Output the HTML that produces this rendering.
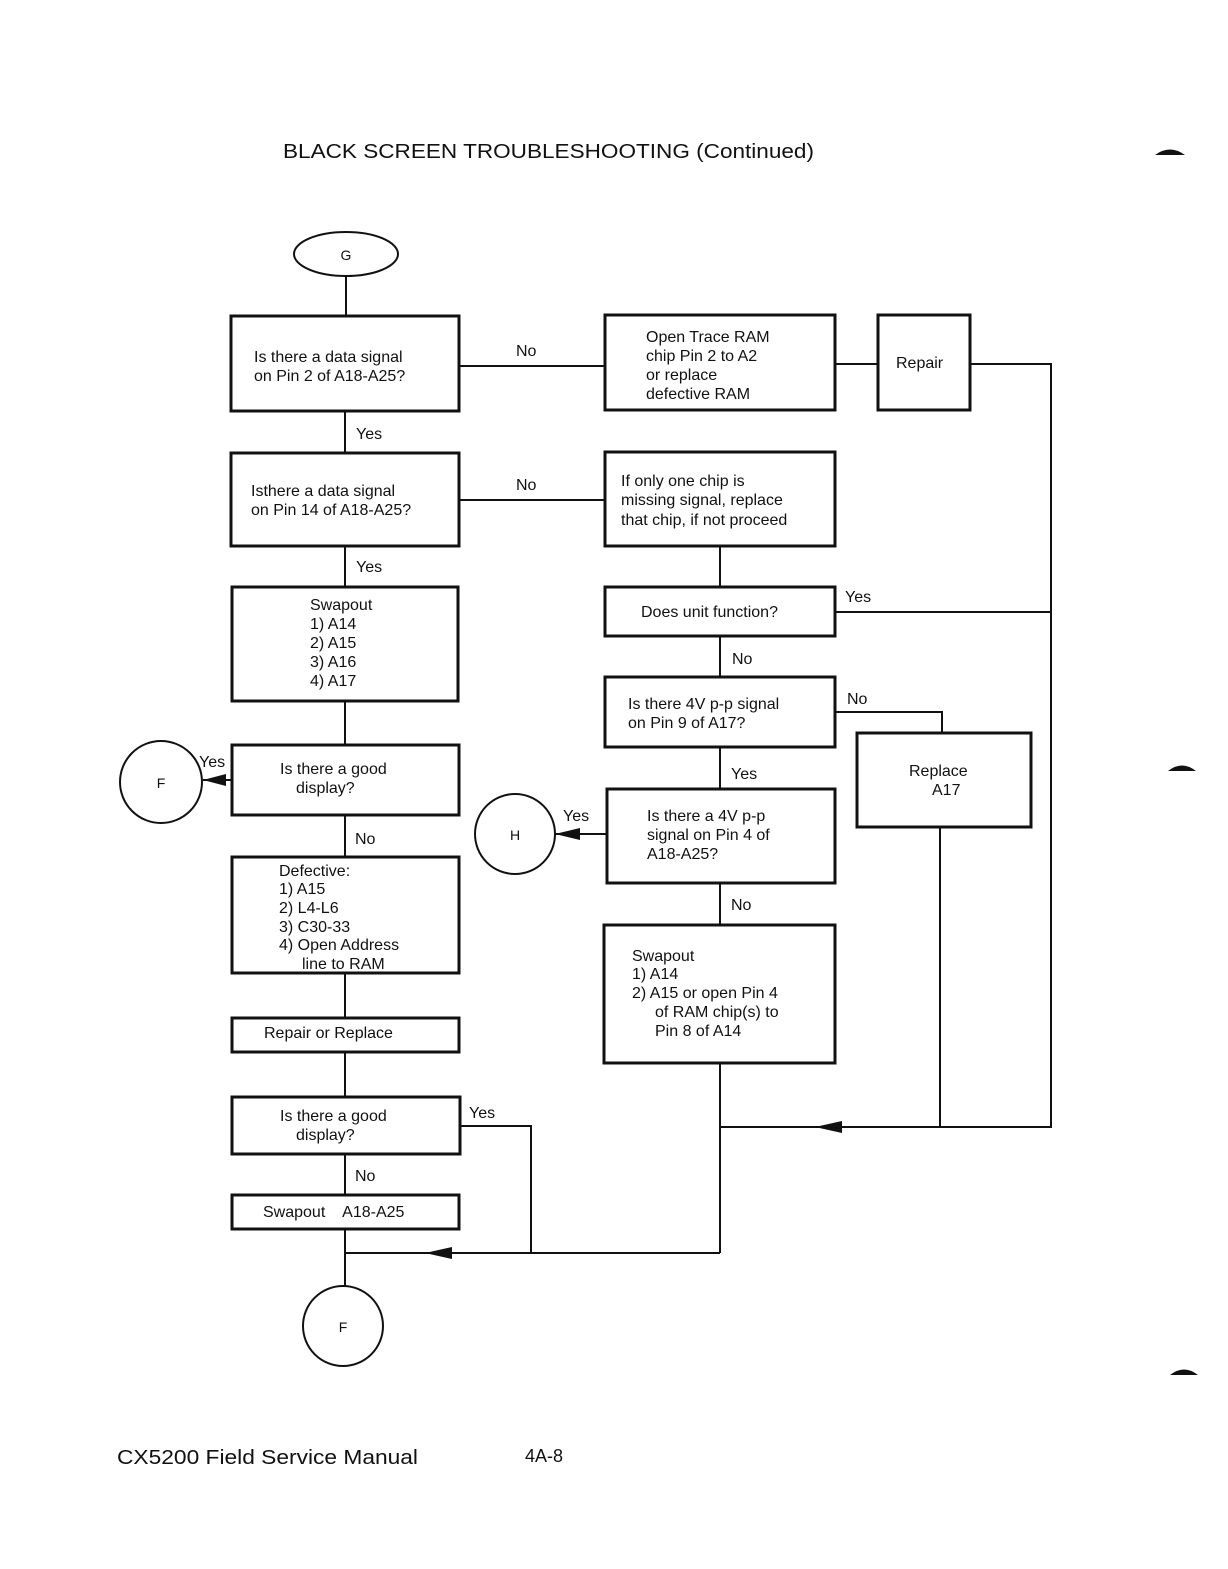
<!DOCTYPE html>
<html><head><meta charset="utf-8"><style>
html,body{margin:0;padding:0;background:#fff}
svg text{font-family:"Liberation Sans",sans-serif;fill:#111}
</style></head><body>
<svg width="1228" height="1564" viewBox="0 0 1228 1564" xmlns="http://www.w3.org/2000/svg">
<rect width="1228" height="1564" fill="#fff"/>
<g font-size="16">
<text x="283" y="158" font-size="20" textLength="531" lengthAdjust="spacingAndGlyphs">BLACK SCREEN TROUBLESHOOTING (Continued)</text>
<path d="M1155 155 Q1170 144 1185 155 Z" fill="#111"/>
<path d="M1168 771 Q1182 760 1196 771 Z" fill="#111"/>
<path d="M1170 1375 Q1184 1364 1198 1375 Z" fill="#111"/>

<g fill="none" stroke="#111" stroke-width="2">
<ellipse cx="346" cy="254" rx="52" ry="22"/>
<line x1="346" y1="276" x2="346" y2="316"/>
<line x1="459" y1="366" x2="605" y2="366"/>
<line x1="835" y1="364" x2="878" y2="364"/>
<polyline points="970,364 1051,364 1051,1127 720,1127"/>
<line x1="345" y1="411" x2="345" y2="453"/>
<line x1="345" y1="546" x2="345" y2="587"/>
<line x1="459" y1="500" x2="605" y2="500"/>
<line x1="720" y1="546" x2="720" y2="587"/>
<line x1="835" y1="612" x2="1051" y2="612"/>
<line x1="720" y1="636" x2="720" y2="677"/>
<polyline points="835,712 942,712 942,733"/>
<line x1="940" y1="827" x2="940" y2="1127"/>
<line x1="720" y1="747" x2="720" y2="789"/>
<line x1="607" y1="834" x2="555" y2="834"/>
<circle cx="515" cy="834" r="40"/>
<line x1="720" y1="883" x2="720" y2="925"/>
<line x1="720" y1="1063" x2="720" y2="1253"/>
<line x1="345" y1="701" x2="345" y2="745"/>
<line x1="232" y1="780" x2="203" y2="780"/>
<circle cx="161" cy="782" r="41"/>
<line x1="345" y1="815" x2="345" y2="857"/>
<line x1="345" y1="973" x2="345" y2="1018"/>
<line x1="345" y1="1052" x2="345" y2="1097"/>
<polyline points="460,1126 531,1126 531,1253"/>
<line x1="345" y1="1154" x2="345" y2="1195"/>
<line x1="345" y1="1229" x2="345" y2="1286"/>
<line x1="345" y1="1253" x2="720" y2="1253"/>
<circle cx="343" cy="1326" r="40"/>
</g>
<g fill="#111">
<polygon points="555,834 580,828 580,840"/>
<polygon points="203,780 226,774 226,786"/>
<polygon points="815,1127 842,1121 842,1133"/>
<polygon points="425,1253 452,1247 452,1259"/>
</g>
<g fill="none" stroke="#111" stroke-width="3">
<rect x="231" y="316" width="228" height="95"/>
<rect x="605" y="315" width="230" height="95"/>
<rect x="878" y="315" width="92" height="95"/>
<rect x="231" y="453" width="228" height="93"/>
<rect x="605" y="452" width="230" height="94"/>
<rect x="605" y="587" width="230" height="49"/>
<rect x="605" y="677" width="230" height="70"/>
<rect x="857" y="733" width="174" height="94"/>
<rect x="607" y="789" width="228" height="94"/>
<rect x="604" y="925" width="231" height="138"/>
<rect x="232" y="587" width="226" height="114"/>
<rect x="232" y="745" width="227" height="70"/>
<rect x="232" y="857" width="227" height="116"/>
<rect x="232" y="1018" width="227" height="34"/>
<rect x="232" y="1097" width="228" height="57"/>
<rect x="232" y="1195" width="227" height="34"/>
</g>

<text x="346" y="260" text-anchor="middle" font-size="14">G</text>
<text x="254" y="362">Is there a data signal</text>
<text x="254" y="381">on Pin 2 of A18-A25?</text>
<text x="516" y="356">No</text>
<text x="646" y="342">Open Trace RAM</text>
<text x="646" y="361">chip Pin 2 to A2</text>
<text x="646" y="380">or replace</text>
<text x="646" y="399">defective RAM</text>
<text x="896" y="368">Repair</text>
<text x="356" y="439">Yes</text>
<text x="251" y="496">Isthere a data signal</text>
<text x="251" y="515">on Pin 14 of A18-A25?</text>
<text x="516" y="490">No</text>
<text x="621" y="486">If only one chip is</text>
<text x="621" y="505">missing signal, replace</text>
<text x="621" y="525">that chip, if not proceed</text>
<text x="356" y="572">Yes</text>
<text x="310" y="610">Swapout</text>
<text x="310" y="629">1) A14</text>
<text x="310" y="648">2) A15</text>
<text x="310" y="667">3) A16</text>
<text x="310" y="686">4) A17</text>
<text x="641" y="617">Does unit function?</text>
<text x="845" y="602">Yes</text>
<text x="732" y="664">No</text>
<text x="628" y="709">Is there 4V p-p signal</text>
<text x="628" y="728">on Pin 9 of A17?</text>
<text x="847" y="704">No</text>
<text x="909" y="776">Replace</text>
<text x="932" y="795">A17</text>
<text x="731" y="779">Yes</text>
<text x="647" y="821">Is there a 4V p-p</text>
<text x="647" y="840">signal on Pin 4 of</text>
<text x="647" y="859">A18-A25?</text>
<text x="563" y="821">Yes</text>
<text x="515" y="840" text-anchor="middle" font-size="14">H</text>
<text x="731" y="910">No</text>
<text x="632" y="961">Swapout</text>
<text x="632" y="979">1) A14</text>
<text x="632" y="998">2) A15 or open Pin 4</text>
<text x="655" y="1017">of RAM chip(s) to</text>
<text x="655" y="1036">Pin 8 of A14</text>
<text x="280" y="774">Is there a good</text>
<text x="296" y="793">display?</text>
<text x="199" y="767">Yes</text>
<text x="161" y="788" text-anchor="middle" font-size="14">F</text>
<text x="355" y="844">No</text>
<text x="279" y="876">Defective:</text>
<text x="279" y="894">1) A15</text>
<text x="279" y="913">2) L4-L6</text>
<text x="279" y="932">3) C30-33</text>
<text x="279" y="950">4) Open Address</text>
<text x="302" y="969">line to RAM</text>
<text x="264" y="1038">Repair or Replace</text>
<text x="280" y="1121">Is there a good</text>
<text x="296" y="1140">display?</text>
<text x="469" y="1118">Yes</text>
<text x="355" y="1181">No</text>
<text x="263" y="1217" xml:space="preserve">Swapout    A18-A25</text>
<text x="343" y="1332" text-anchor="middle" font-size="14">F</text>
<text x="117" y="1464" font-size="20" textLength="301" lengthAdjust="spacingAndGlyphs">CX5200 Field Service Manual</text>
<text x="525" y="1462" font-size="18">4A-8</text>
</g>
</svg>
</body></html>
